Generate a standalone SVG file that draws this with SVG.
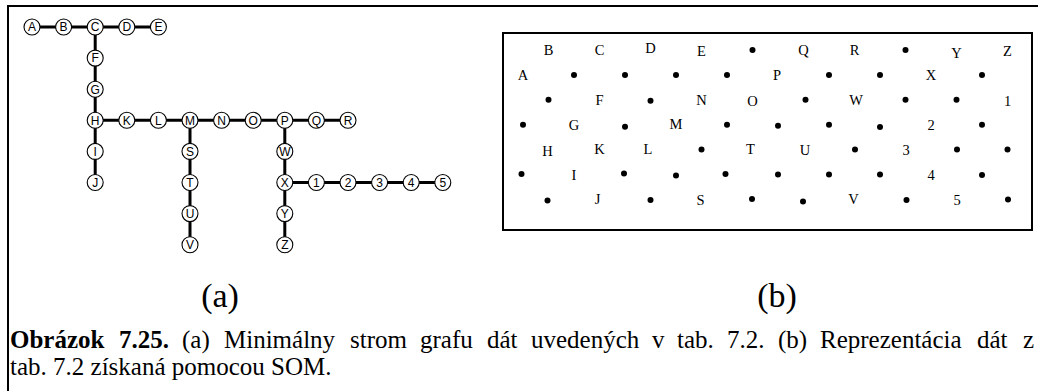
<svg xmlns="http://www.w3.org/2000/svg" width="1038" height="391" viewBox="0 0 1038 391">
  <style>
    .frame { fill: none; stroke: #000; stroke-width: 2; }
    .edge { fill: none; stroke: #000; stroke-width: 3; stroke-linecap: butt; }
    .node circle { fill: #fff; stroke: #000; stroke-width: 1.1; }
    .node text { font-family: "Liberation Sans", Arial, sans-serif; font-size: 12px; text-anchor: middle; fill: #000; }
    .som { fill: none; stroke: #000; stroke-width: 2; }
    .dot { fill: #000; }
    .lbl { font-family: "Liberation Serif", "Times New Roman", serif; font-size: 14.5px; text-anchor: middle; fill: #000; }
    .sub { font-family: "Liberation Serif", "Times New Roman", serif; font-size: 34px; text-anchor: middle; fill: #000; }
    .cap { font-family: "Liberation Serif", "Times New Roman", serif; font-size: 25px; fill: #000; }
    .cap .b { font-weight: bold; }
  </style>

  <!-- page frame (top and left rule) -->
  <path class="frame" d="M8 391 V6 H1038"/>

  <!-- (a) minimal spanning tree -->
  <g id="connectors">
    <path class="edge" d="M32 27 H158.4"/>
    <path class="edge" d="M95.2 27 V182.5"/>
    <path class="edge" d="M95.2 120.3 H348"/>
    <path class="edge" d="M190 120.3 V244.7"/>
    <path class="edge" d="M284.8 120.3 V244.7"/>
    <path class="edge" d="M284.8 182.5 H442.8"/>
  </g>

  <g id="node-A" class="node"><circle cx="32" cy="27" r="8"/><text x="32" y="31.3">A</text></g>
  <g id="node-B" class="node"><circle cx="63.6" cy="27" r="8"/><text x="63.6" y="31.3">B</text></g>
  <g id="node-C" class="node"><circle cx="95.2" cy="27" r="8"/><text x="95.2" y="31.3">C</text></g>
  <g id="node-D" class="node"><circle cx="126.8" cy="27" r="8"/><text x="126.8" y="31.3">D</text></g>
  <g id="node-E" class="node"><circle cx="158.4" cy="27" r="8"/><text x="158.4" y="31.3">E</text></g>
  <g id="node-F" class="node"><circle cx="95.2" cy="58.1" r="8"/><text x="95.2" y="62.4">F</text></g>
  <g id="node-G" class="node"><circle cx="95.2" cy="89.2" r="8"/><text x="95.2" y="93.5">G</text></g>
  <g id="node-H" class="node"><circle cx="95.2" cy="120.3" r="8"/><text x="95.2" y="124.6">H</text></g>
  <g id="node-I" class="node"><circle cx="95.2" cy="151.4" r="8"/><text x="95.2" y="155.7">I</text></g>
  <g id="node-J" class="node"><circle cx="95.2" cy="182.5" r="8"/><text x="95.2" y="186.8">J</text></g>
  <g id="node-K" class="node"><circle cx="126.8" cy="120.3" r="8"/><text x="126.8" y="124.6">K</text></g>
  <g id="node-L" class="node"><circle cx="158.4" cy="120.3" r="8"/><text x="158.4" y="124.6">L</text></g>
  <g id="node-M" class="node"><circle cx="190" cy="120.3" r="8"/><text x="190" y="124.6">M</text></g>
  <g id="node-N" class="node"><circle cx="221.6" cy="120.3" r="8"/><text x="221.6" y="124.6">N</text></g>
  <g id="node-O" class="node"><circle cx="253.2" cy="120.3" r="8"/><text x="253.2" y="124.6">O</text></g>
  <g id="node-P" class="node"><circle cx="284.8" cy="120.3" r="8"/><text x="284.8" y="124.6">P</text></g>
  <g id="node-Q" class="node"><circle cx="316.4" cy="120.3" r="8"/><text x="316.4" y="124.6">Q</text></g>
  <g id="node-R" class="node"><circle cx="348" cy="120.3" r="8"/><text x="348" y="124.6">R</text></g>
  <g id="node-S" class="node"><circle cx="190" cy="151.4" r="8"/><text x="190" y="155.7">S</text></g>
  <g id="node-T" class="node"><circle cx="190" cy="182.5" r="8"/><text x="190" y="186.8">T</text></g>
  <g id="node-U" class="node"><circle cx="190" cy="213.6" r="8"/><text x="190" y="217.9">U</text></g>
  <g id="node-V" class="node"><circle cx="190" cy="244.7" r="8"/><text x="190" y="249">V</text></g>
  <g id="node-W" class="node"><circle cx="284.8" cy="151.4" r="8"/><text x="284.8" y="155.7">W</text></g>
  <g id="node-X" class="node"><circle cx="284.8" cy="182.5" r="8"/><text x="284.8" y="186.8">X</text></g>
  <g id="node-Y" class="node"><circle cx="284.8" cy="213.6" r="8"/><text x="284.8" y="217.9">Y</text></g>
  <g id="node-Z" class="node"><circle cx="284.8" cy="244.7" r="8"/><text x="284.8" y="249">Z</text></g>
  <g id="node-1" class="node"><circle cx="316.4" cy="182.5" r="8"/><text x="316.4" y="186.8">1</text></g>
  <g id="node-2" class="node"><circle cx="348" cy="182.5" r="8"/><text x="348" y="186.8">2</text></g>
  <g id="node-3" class="node"><circle cx="379.6" cy="182.5" r="8"/><text x="379.6" y="186.8">3</text></g>
  <g id="node-4" class="node"><circle cx="411.2" cy="182.5" r="8"/><text x="411.2" y="186.8">4</text></g>
  <g id="node-5" class="node"><circle cx="442.8" cy="182.5" r="8"/><text x="442.8" y="186.8">5</text></g>

  <!-- (b) SOM map: hexagonal grid, even rows start at x=548.5, odd rows at x=523, step 51 -->
  <g id="som-map">
    <rect class="som" x="503" y="33" width="529" height="197"/>
    <!-- row 1 -->
    <text class="lbl" x="548.5" y="55">B</text>
    <text class="lbl" x="599.5" y="55">C</text>
    <text class="lbl" x="650.5" y="53">D</text>
    <text class="lbl" x="701.5" y="56">E</text>
    <circle class="dot" cx="752.5" cy="50" r="3"/>
    <text class="lbl" x="803.5" y="55">Q</text>
    <text class="lbl" x="854.5" y="55">R</text>
    <circle class="dot" cx="905.5" cy="50" r="3"/>
    <text class="lbl" x="956.5" y="58">Y</text>
    <text class="lbl" x="1007.5" y="56">Z</text>
    <!-- row 2 -->
    <text class="lbl" x="523" y="80">A</text>
    <circle class="dot" cx="574" cy="74.9" r="3"/>
    <circle class="dot" cx="625" cy="74.9" r="3"/>
    <circle class="dot" cx="676" cy="74.9" r="3"/>
    <circle class="dot" cx="727" cy="74.9" r="3"/>
    <text class="lbl" x="777" y="80">P</text>
    <circle class="dot" cx="829" cy="74.9" r="3"/>
    <circle class="dot" cx="880" cy="74.9" r="3"/>
    <text class="lbl" x="931" y="80">X</text>
    <circle class="dot" cx="982" cy="74.9" r="3"/>
    <!-- row 3 -->
    <circle class="dot" cx="548.5" cy="99.8" r="3"/>
    <text class="lbl" x="599.5" y="104.5">F</text>
    <circle class="dot" cx="650.5" cy="100.8" r="3"/>
    <text class="lbl" x="701.5" y="104.5">N</text>
    <text class="lbl" x="752.5" y="105.5">O</text>
    <circle class="dot" cx="805.5" cy="99.8" r="3"/>
    <text class="lbl" x="856" y="104.5">W</text>
    <circle class="dot" cx="905.5" cy="99.8" r="3"/>
    <circle class="dot" cx="956.5" cy="99.8" r="3"/>
    <text class="lbl" x="1007.5" y="105.5">1</text>
    <!-- row 4 -->
    <circle class="dot" cx="523" cy="124.7" r="3"/>
    <text class="lbl" x="574" y="130">G</text>
    <circle class="dot" cx="625" cy="126.7" r="3"/>
    <text class="lbl" x="676" y="128.5">M</text>
    <circle class="dot" cx="727" cy="124.7" r="3"/>
    <circle class="dot" cx="778" cy="125.7" r="3"/>
    <circle class="dot" cx="829" cy="124.7" r="3"/>
    <circle class="dot" cx="880" cy="127" r="3"/>
    <text class="lbl" x="931" y="129.5">2</text>
    <circle class="dot" cx="982" cy="124.7" r="3"/>
    <!-- row 5 -->
    <text class="lbl" x="547.5" y="156">H</text>
    <text class="lbl" x="599.5" y="154">K</text>
    <text class="lbl" x="648" y="154">L</text>
    <circle class="dot" cx="701.5" cy="149.6" r="3"/>
    <text class="lbl" x="750.5" y="154">T</text>
    <text class="lbl" x="805" y="155">U</text>
    <circle class="dot" cx="855" cy="149.6" r="3"/>
    <text class="lbl" x="906" y="155">3</text>
    <circle class="dot" cx="957" cy="149.6" r="3"/>
    <circle class="dot" cx="1007.5" cy="149.6" r="3"/>
    <!-- row 6 -->
    <circle class="dot" cx="521.5" cy="174" r="3"/>
    <text class="lbl" x="574" y="180">I</text>
    <circle class="dot" cx="624" cy="173.5" r="3"/>
    <circle class="dot" cx="676" cy="175.5" r="3"/>
    <circle class="dot" cx="725.5" cy="174" r="3"/>
    <circle class="dot" cx="778" cy="174.5" r="3"/>
    <circle class="dot" cx="829" cy="174.5" r="3"/>
    <circle class="dot" cx="880" cy="174.5" r="3"/>
    <text class="lbl" x="931" y="179.5">4</text>
    <circle class="dot" cx="982" cy="175" r="3"/>
    <!-- row 7 -->
    <circle class="dot" cx="547.5" cy="200.5" r="3"/>
    <text class="lbl" x="597.5" y="204">J</text>
    <circle class="dot" cx="650.5" cy="200" r="3"/>
    <text class="lbl" x="700.5" y="205">S</text>
    <circle class="dot" cx="752" cy="199" r="3"/>
    <circle class="dot" cx="803" cy="201.5" r="3"/>
    <text class="lbl" x="853.5" y="204">V</text>
    <circle class="dot" cx="906.5" cy="200" r="3"/>
    <text class="lbl" x="957" y="204.5">5</text>
    <circle class="dot" cx="1008" cy="199.5" r="3"/>
  </g>

  <!-- sub-figure labels -->
  <text class="sub" x="220" y="307">(a)</text>
  <text class="sub" x="777" y="307">(b)</text>

  <!-- caption, first line justified word by word -->
  <text class="cap" y="348">
    <tspan class="b" x="10">Obrázok</tspan>
    <tspan class="b" x="119">7.25.</tspan>
    <tspan x="182">(a)</tspan>
    <tspan x="224">Minimálny</tspan>
    <tspan x="350">strom</tspan>
    <tspan x="420">grafu</tspan>
    <tspan x="487">dát</tspan>
    <tspan x="531">uvedených</tspan>
    <tspan x="652">v</tspan>
    <tspan x="677">tab.</tspan>
    <tspan x="727">7.2.</tspan>
    <tspan x="778">(b)</tspan>
    <tspan x="820">Reprezentácia</tspan>
    <tspan x="977">dát</tspan>
    <tspan x="1023">z</tspan>
  </text>
  <text class="cap" x="10" y="375">tab. 7.2 získaná pomocou SOM.</text>
</svg>
